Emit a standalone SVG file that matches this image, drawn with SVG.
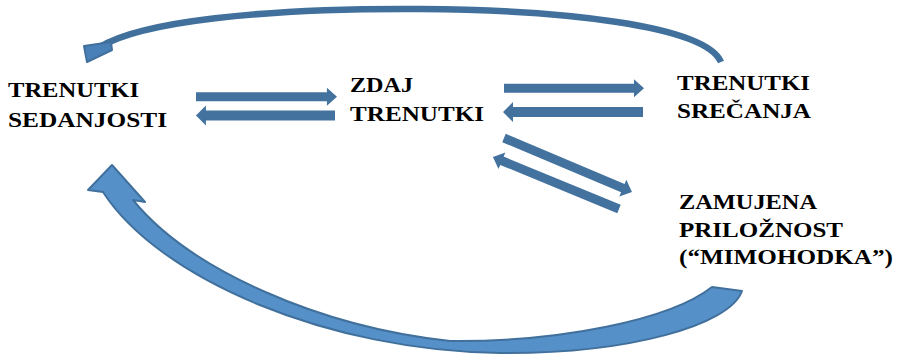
<svg xmlns="http://www.w3.org/2000/svg" xmlns:xlink="http://www.w3.org/1999/xlink" width="899" height="356" viewBox="0 0 899 356">
<style>
  .lbl { font-family: "Liberation Serif", "DejaVu Serif", "Times New Roman", serif; font-weight: 700; font-size: 22px; fill: #000; }
  .sa { fill: #44729e; }
  .big { fill: #5590c8; stroke: #41709c; stroke-width: 2; stroke-linejoin: round; }
  .topc { fill: none; stroke: #41709c; stroke-width: 6.5; }
  .toph { fill: #4a80b8; stroke: #41709c; stroke-width: 2; stroke-linejoin: round; }
</style>
<defs>
  <path id="arr" d="M0,-4.5 L130,-4.5 L130,-9 L140,0 L130,9 L130,4.5 L0,4.5 Z"/>
</defs>
<rect width="899" height="356" fill="#fff"/>
<g id="connectors">
  <use xlink:href="#arr" class="sa" transform="translate(196,96.7) scale(1.007,1)"/>
  <use xlink:href="#arr" class="sa" transform="translate(335,115.5) rotate(180) scale(0.993,1.1)"/>
  <use xlink:href="#arr" class="sa" transform="translate(504,88.3)"/>
  <use xlink:href="#arr" class="sa" transform="translate(643,112) rotate(180) scale(1,1.1)"/>
  <use xlink:href="#arr" class="sa" transform="translate(504,138) rotate(22.87) scale(0.992,1)"/>
  <use xlink:href="#arr" class="sa" transform="translate(619,209) rotate(202.4) scale(0.974,1)"/>
  <path class="topc" d="M721,62 C705,25 560,10 420,9 C260,8 140,22 100,47"/>
  <path class="toph" d="M84,46 L111,42 L112,50 L87,62 Z"/>
  <path class="big" d="M742,291 C730,325 630,354 500,353 C330,351 160,280 103,192 L88,190 L112,165 L145,202 L133,200 C190,270 320,327 450,341 C560,342 670,320 712,287 Z"/>
</g>
<g id="node-sedanjosti">
  <text class="lbl" font-family="Liberation Serif, serif" x="8" y="97" textLength="131" lengthAdjust="spacingAndGlyphs">TRENUTKI</text>
  <text class="lbl" font-family="Liberation Serif, serif" x="8" y="127" textLength="159" lengthAdjust="spacingAndGlyphs">SEDANJOSTI</text>
</g>
<g id="node-zdaj">
  <text class="lbl" x="350" y="92" textLength="63" lengthAdjust="spacingAndGlyphs">ZDAJ</text>
  <text class="lbl" x="350" y="121" textLength="134" lengthAdjust="spacingAndGlyphs">TRENUTKI</text>
</g>
<g id="node-srecanja">
  <text class="lbl" x="677" y="90" textLength="133" lengthAdjust="spacingAndGlyphs">TRENUTKI</text>
  <text class="lbl" x="677" y="118" textLength="134" lengthAdjust="spacingAndGlyphs">SREČANJA</text>
</g>
<g id="node-zamujena">
  <text class="lbl" x="679" y="209" textLength="138" lengthAdjust="spacingAndGlyphs">ZAMUJENA</text>
  <text class="lbl" x="679" y="237" textLength="164" lengthAdjust="spacingAndGlyphs">PRILOŽNOST</text>
  <text class="lbl" x="679" y="264" textLength="214" lengthAdjust="spacingAndGlyphs">(“MIMOHODKA”)</text>
</g>
</svg>
